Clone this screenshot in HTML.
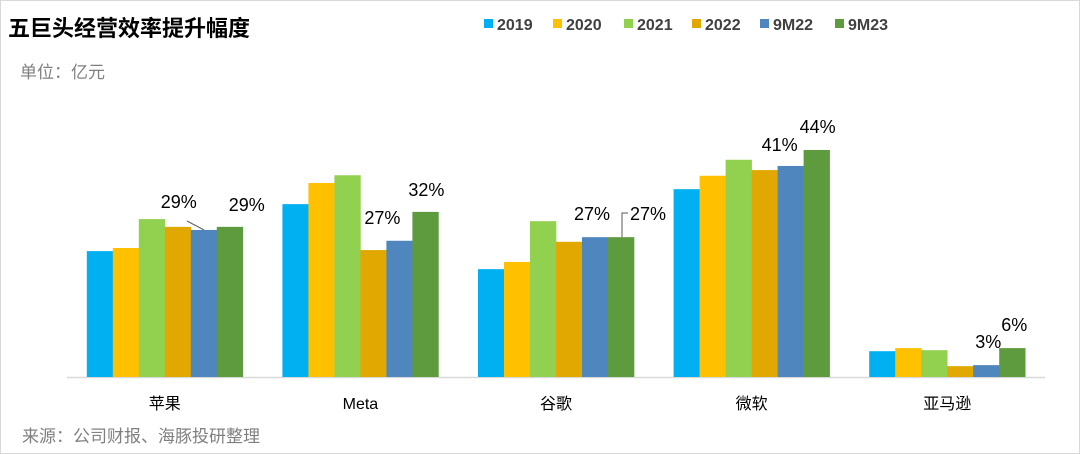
<!DOCTYPE html>
<html><head><meta charset="utf-8"><style>
body{margin:0;background:#fff;}
#wrap{position:relative;width:1080px;height:454px;overflow:hidden;font-family:"Liberation Sans","Noto Sans CJK SC",sans-serif;}
</style></head><body>
<div id="wrap">
<svg id="chart" width="1080" height="454">
<rect x="0.5" y="0.5" width="1079" height="453" fill="#fff" stroke="#d9d9d9"/>
<text x="8" y="36" font-size="22" font-weight="bold" fill="#000" font-family="Liberation Sans, Noto Sans CJK SC, sans-serif">五巨头经营效率提升幅度</text>
<text x="20" y="78" font-size="17" fill="#7f7f7f" font-family="Liberation Sans, Noto Sans CJK SC, sans-serif">单位：亿元</text>
<text x="22" y="442" font-size="17" fill="#7f7f7f" font-family="Liberation Sans, Noto Sans CJK SC, sans-serif">来源：公司财报、海豚投研整理</text>
<line x1="67" y1="377.5" x2="1045" y2="377.5" stroke="#d9d9d9" stroke-width="1.5"/>
<g id="bars"></g><g id="labels"></g><g id="legend"></g>
</svg>
</div>
<script>
const categories=["苹果","Meta","谷歌","微软","亚马逊"];
const seriesNames=["2019","2020","2021","2022","9M22","9M23"];
const s2019=[24.4,33.5,20.9,36.4,5.0];
const s2020=[25.0,37.6,22.3,39.0,5.6];
const s2021=[30.6,39.1,30.2,42.1,5.2];
const s2022=[29.1,24.6,26.2,40.1,2.1];
const s9M22=[28.5,26.4,27.1,40.9,2.3];
const s9M23=[29.1,32.0,27.1,44.0,5.6];
const labelTexts9M22=["29%","27%","27%","41%","3%"];
const labelTexts9M23=["29%","32%","27%","44%","6%"];
const colors=["#00b0f0","#ffc000","#92d050","#e0a800","#4f86be","#5e9a3e"];
const series=[s2019,s2020,s2021,s2022,s9M22,s9M23];
const NS="http://www.w3.org/2000/svg";
const left=67,right=1045,base=377,pxPer=5.16;
const band=(right-left)/categories.length,groupW=156,barW=groupW/6;
const x=(ci,si)=>left+ci*band+(band-groupW)/2+si*barW;
const y=v=>base-v*pxPer;
function mk(tag,attrs){const e=document.createElementNS(NS,tag);for(const k in attrs)e.setAttribute(k,attrs[k]);return e;}
const gb=document.getElementById('bars'),gl=document.getElementById('labels'),gg=document.getElementById('legend');
const font="Liberation Sans, Noto Sans CJK SC, sans-serif";
categories.forEach((c,ci)=>{
  series.forEach((s,si)=>{
    const r=mk('rect',{x:x(ci,si),y:y(s[ci]),width:barW+0.3,height:s[ci]*pxPer,fill:colors[si]});
    
    
    gb.appendChild(r);
  });
  const t=mk('text',{x:left+ci*band+band/2,y:409,'font-size':16,fill:'#000','text-anchor':'middle','font-family':font});
  t.textContent=c;
  
  
  gl.appendChild(t);
});
const off22=[[-25,-22],[-17,-17],[-3,-17],[-11,-15],[2,-17]];
const off23=[[17,-16],[1,-16],[27,-17],[1,-17],[2,-17]];
categories.forEach((c,ci)=>{
  const cx22=x(ci,4)+barW/2,cx23=x(ci,5)+barW/2;
  const a=mk('text',{x:cx22+off22[ci][0],y:y(s9M22[ci])+off22[ci][1],'font-size':18,fill:'#000','text-anchor':'middle','font-family':font});
  a.textContent=labelTexts9M22[ci];
  
  
  gl.appendChild(a);
  const b=mk('text',{x:cx23+off23[ci][0],y:y(s9M23[ci])+off23[ci][1],'font-size':18,fill:'#000','text-anchor':'middle','font-family':font});
  b.textContent=labelTexts9M23[ci];
  
  
  gl.appendChild(b);
});
const l1=mk('line',{x1:187,y1:221,x2:204,y2:y(s9M22[0]),stroke:'#595959','stroke-width':1});


gl.appendChild(l1);
const l2=mk('polyline',{points:`622,${y(s9M23[2])} 622,213 628,213`,fill:'none',stroke:'#595959','stroke-width':1});


gl.appendChild(l2);
const legX=[484,553,624,692,760,835];
seriesNames.forEach((n,i)=>{
  const r=mk('rect',{x:legX[i],y:19,width:9,height:9,fill:colors[i]});
  
  
  gg.appendChild(r);
  const t=mk('text',{x:legX[i]+13,y:30,'font-size':16,'font-weight':'bold',fill:'#404040','font-family':font});
  t.textContent=n;
  
  
  gg.appendChild(t);
});
</script>
</body></html>
